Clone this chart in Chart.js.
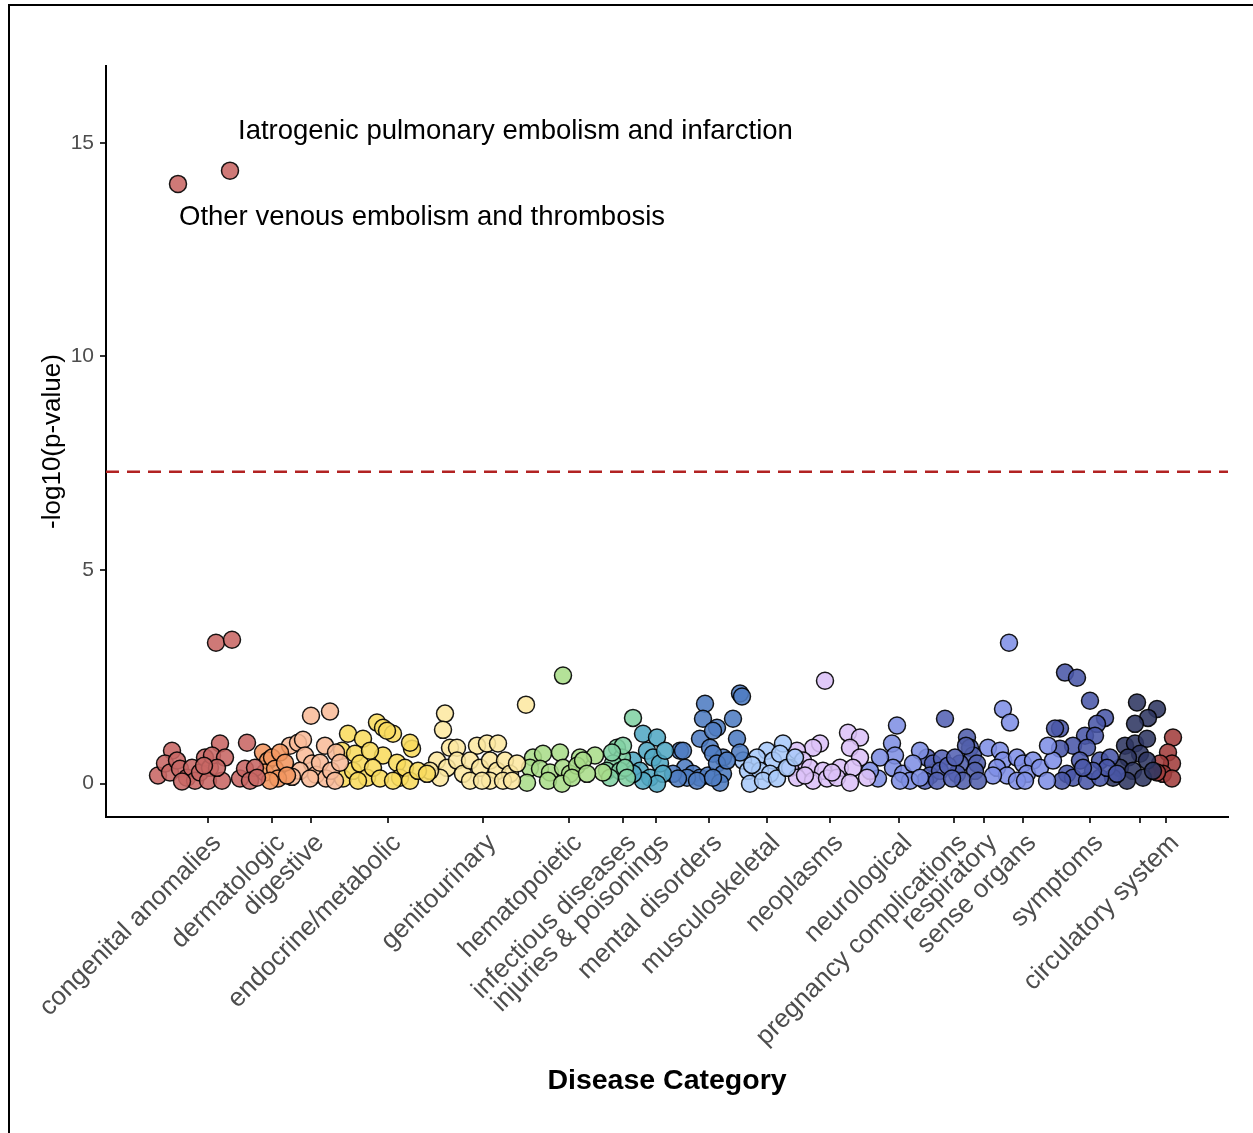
<!DOCTYPE html>
<html>
<head>
<meta charset="utf-8">
<script src="https://cdn.jsdelivr.net/npm/chart.js@4.4.1/dist/chart.umd.min.js"></script>
<style>
  html, body { margin: 0; padding: 0; background: #fff; }
  #wrap { width: 1253px; height: 1133px; }
</style>
</head>
<body>
<div id="wrap"><canvas id="phewas" width="1253" height="1133"></canvas></div>
<script>
// phenotype position along the x axis, -log10(p)
const congenitalAnomalies = [[72,14.04],[124,14.35],[110,3.30],[126,3.37],[66,0.77],[141,0.96],[114,0.94],[52,0.19],[59,0.47],[64,0.26],[71,0.54],[74,0.35],[81,0.14],[86,0.37],[89,0.07],[94,0.26],[99,0.61],[104,0.37],[106,0.66],[102,0.07],[116,0.07],[119,0.61],[134,0.12],[139,0.35],[149,0.37],[144,0.07],[151,0.14],[111,0.37],[76,0.05],[98,0.42]];
const dermatologic = [[157,0.73],[162,0.54],[159,0.26],[166,0.61],[169,0.35],[174,0.73],[172,0.12],[179,0.49],[164,0.07],[181,0.19]];
const digestive = [[205,1.59],[224,1.69],[184,0.89],[192,0.96],[197,1.03],[199,0.66],[206,0.47],[194,0.30],[210,0.21],[214,0.49],[220,0.12],[225,0.30],[219,0.89],[230,0.73],[234,0.49],[186,0.16],[204,0.12],[229,0.07]];
const endocrineMetabolic = [[271,1.43],[277,1.31],[287,1.17],[281,1.24],[242,1.17],[257,1.05],[236,0.77],[249,0.70],[277,0.66],[306,0.82],[304,0.96],[237,0.12],[247,0.30],[254,0.47],[261,0.14],[267,0.37],[274,0.12],[291,0.49],[294,0.14],[299,0.37],[304,0.07],[312,0.30],[321,0.23],[287,0.07],[252,0.07],[264,0.77]];
const genitourinary = [[339,1.64],[337,1.26],[344,0.84],[351,0.84],[371,0.89],[381,0.94],[392,0.94],[331,0.54],[341,0.37],[351,0.54],[357,0.23],[364,0.54],[374,0.37],[384,0.54],[391,0.30],[399,0.54],[404,0.23],[411,0.47],[384,0.07],[334,0.14],[364,0.07],[376,0.07],[397,0.07],[406,0.07],[420,1.85],[324,0.30]];
const hematopoietic = [[457,2.53],[427,0.61],[437,0.70],[454,0.73],[474,0.61],[489,0.66],[424,0.37],[434,0.35],[444,0.26],[457,0.37],[464,0.23],[471,0.42],[477,0.54],[421,0.02],[442,0.07],[456,0.00],[466,0.14],[497,0.26],[481,0.23]];
const infectiousDiseases = [[527,1.54],[511,0.84],[516,0.61],[507,0.47],[501,0.30],[514,0.30],[519,0.37],[504,0.14],[521,0.14],[517,0.89],[506,0.73]];
const injuriesPoisonings = [[537,1.17],[551,1.08],[527,0.54],[541,0.77],[547,0.61],[554,0.47],[534,0.30],[544,0.14],[557,0.23],[551,0.00],[537,0.07],[527,0.23],[559,0.77]];
const mentalDisorders = [[574,0.77],[599,1.87],[597,1.52],[634,2.11],[636,2.04],[627,1.52],[611,1.31],[594,1.05],[607,1.24],[604,0.84],[631,1.05],[577,0.77],[634,0.73],[617,0.61],[607,0.70],[579,0.37],[587,0.23],[594,0.14],[602,0.19],[611,0.47],[617,0.23],[621,0.54],[581,0.14],[591,0.07],[614,0.02],[607,0.14],[567,0.23],[572,0.12]];
const musculoskeletal = [[677,0.94],[661,0.77],[651,0.61],[637,0.54],[667,0.54],[674,0.70],[642,0.30],[654,0.30],[664,0.23],[644,0.00],[657,0.07],[671,0.12],[681,0.37],[689,0.61],[646,0.44]];
const neoplasms = [[719,2.41],[742,1.19],[754,1.08],[744,0.84],[714,0.94],[707,0.84],[691,0.77],[754,0.61],[697,0.54],[684,0.37],[704,0.37],[717,0.30],[734,0.37],[747,0.37],[691,0.14],[707,0.07],[721,0.12],[731,0.14],[744,0.02],[761,0.14],[699,0.19],[726,0.26]];
const neurological = [[791,1.36],[786,0.94],[789,0.66],[774,0.61],[787,0.37],[797,0.23],[804,0.07],[772,0.12],[814,0.77],[807,0.47],[814,0.14],[794,0.07],[764,0.30]];
const pregnancyComplications = [[839,1.52],[821,0.61],[827,0.47],[836,0.59],[824,0.19],[834,0.30],[819,0.07],[831,0.07],[842,0.42],[846,0.12],[849,0.61]];
const respiratory = [[861,1.08],[864,0.84],[867,0.66],[871,0.47],[869,0.30],[854,0.47],[851,0.23],[857,0.07],[872,0.07],[860,0.89]];
const senseOrgans = [[903,3.30],[897,1.75],[904,1.43],[882,0.84],[894,0.77],[897,0.54],[891,0.37],[901,0.19],[911,0.61],[917,0.47],[927,0.54],[921,0.23],[934,0.37],[941,0.07],[911,0.07],[947,0.54],[942,0.89],[919,0.07],[887,0.19]];
const symptoms = [[959,2.60],[971,2.48],[984,1.94],[999,1.54],[991,1.40],[954,1.29],[949,1.29],[979,1.12],[989,1.12],[967,0.89],[981,0.84],[954,0.82],[974,0.54],[994,0.54],[1004,0.61],[961,0.23],[967,0.14],[981,0.07],[994,0.14],[1001,0.37],[1011,0.23],[987,0.30],[977,0.37],[956,0.07]];
const unlabeled = [[1031,1.90],[1051,1.75],[1042,1.54],[1029,1.40],[1019,0.89],[1029,0.94],[1041,1.05],[1034,0.70],[1022,0.61],[1014,0.37],[1027,0.30],[1041,0.54],[1037,0.14],[1021,0.07],[1047,0.30],[1007,0.14]];
const circulatorySystem = [[1067,1.08],[1062,0.73],[1066,0.47],[1054,0.47],[1057,0.23],[1066,0.12],[1051,0.26]];

const groups = [congenitalAnomalies, dermatologic, digestive, endocrineMetabolic, genitourinary, hematopoietic,
  infectiousDiseases, injuriesPoisonings, mentalDisorders, musculoskeletal, neoplasms, neurological,
  pregnancyComplications, respiratory, senseOrgans, symptoms, unlabeled, circulatorySystem];
const groupColors = ['#c86664', '#f29660', '#f9bc9a', '#f9dc5e', '#fde8a2', '#aadd8a', '#82d2a4', '#52a8c4',
  '#4f7cc2', '#a9c9f9', '#dcc2f8', '#8090e4', '#5462b4', '#5260ac', '#8090e6', '#4a58a8', '#2f3762', '#a23e3c'];

const tickPositions = [102, 166, 205, 282, 377, 463, 517, 550, 603, 661, 724, 793, 848, 878, 917, 984, 1034, 1060];
const tickLabels = ['congenital anomalies', 'dermatologic', 'digestive', 'endocrine/metabolic', 'genitourinary',
  'hematopoietic', 'infectious diseases', 'injuries & poisonings', 'mental disorders', 'musculoskeletal',
  'neoplasms', 'neurological', 'pregnancy complications', 'respiratory', 'sense organs', 'symptoms', '',
  'circulatory system'];
const yTicks = [0, 5, 10, 15];
const threshold = 7.3;

const noteText = ['Iatrogenic pulmonary embolism and infarction', 'Other venous embolism and thrombosis'];
const noteX = [132, 73];
const noteY = [15.28, 13.25];

const FONT = '"Liberation Sans", Arial, sans-serif';

const extras = {
  id: 'extras',
  beforeDraw(chart) {
    const ctx = chart.ctx;
    ctx.save();
    ctx.fillStyle = '#fff';
    ctx.fillRect(0, 0, chart.width, chart.height);
    ctx.strokeStyle = '#000';
    ctx.lineWidth = 2;
    ctx.strokeRect(9, 5, chart.width + 20, chart.height + 20);
    ctx.restore();
  },
  afterDatasetsDraw(chart) {
    const { ctx, scales: { x, y } } = chart;
    ctx.save();
    ctx.font = '27.5px ' + FONT;
    ctx.fillStyle = '#000';
    ctx.textAlign = 'left';
    ctx.textBaseline = 'middle';
    noteText.forEach((t, i) => ctx.fillText(t, x.getPixelForValue(noteX[i]), y.getPixelForValue(noteY[i])));
    ctx.restore();
  }
};

function withAlpha(hex, a) {
  const n = parseInt(hex.slice(1), 16);
  return `rgba(${n >> 16},${(n >> 8) & 255},${n & 255},${a})`;
}

const datasets = groups.map((g, i) => ({
  type: 'scatter',
  data: g.map(p => ({ x: p[0], y: p[1] })),
  backgroundColor: withAlpha(groupColors[i], 0.88),
  borderColor: 'rgba(0,0,0,0.9)',
  borderWidth: 1.5,
  pointRadius: 8.5,
  order: i
}));

datasets.push({
  type: 'line',
  data: [{ x: 0, y: threshold }, { x: 1122, y: threshold }],
  borderColor: '#b22222',
  borderWidth: 2.5,
  borderDash: [13, 8],
  pointRadius: 0,
  order: 100
});

new Chart(document.getElementById('phewas'), {
  data: { datasets },
  options: {
    responsive: false,
    animation: false,
    devicePixelRatio: 1,
    layout: { padding: { top: 66, right: 25, left: 0, bottom: 0 } },
    plugins: { legend: { display: false }, tooltip: { enabled: false } },
    scales: {
      x: {
        type: 'linear',
        min: 0,
        max: 1122,
        afterBuildTicks: s => { s.ticks = tickPositions.map(v => ({ value: v })); },
        afterFit: s => { s.height = 316; },
        border: { display: true, color: '#000', width: 2 },
        grid: { display: true, drawOnChartArea: false, drawTicks: true, tickLength: 6, color: '#333', lineWidth: 2 },
        ticks: {
          autoSkip: false,
          minRotation: 45,
          maxRotation: 45,
          padding: 5,
          labelOffset: 9,
          color: '#4d4d4d',
          font: { family: FONT, size: 26 },
          callback: v => tickLabels[tickPositions.indexOf(v)]
        },
        title: {
          display: true,
          text: 'Disease Category',
          color: '#000',
          font: { family: FONT, size: 28.5, weight: 'bold' },
          padding: { top: 0, bottom: 35 }
        }
      },
      y: {
        type: 'linear',
        min: -0.78,
        max: 16.8,
        afterBuildTicks: s => { s.ticks = yTicks.map(v => ({ value: v })); },
        afterFit: s => { s.width = 106; },
        border: { display: true, color: '#000', width: 2 },
        grid: { display: true, drawOnChartArea: false, drawTicks: true, tickLength: 6, color: '#333', lineWidth: 2 },
        ticks: {
          padding: 6,
          color: '#4d4d4d',
          font: { family: FONT, size: 21 }
        },
        title: {
          display: true,
          text: '-log10(p-value)',
          color: '#000',
          font: { family: FONT, size: 26 },
          padding: { top: 37, bottom: 0 }
        }
      }
    }
  },
  plugins: [extras]
});
</script>
</body>
</html>
